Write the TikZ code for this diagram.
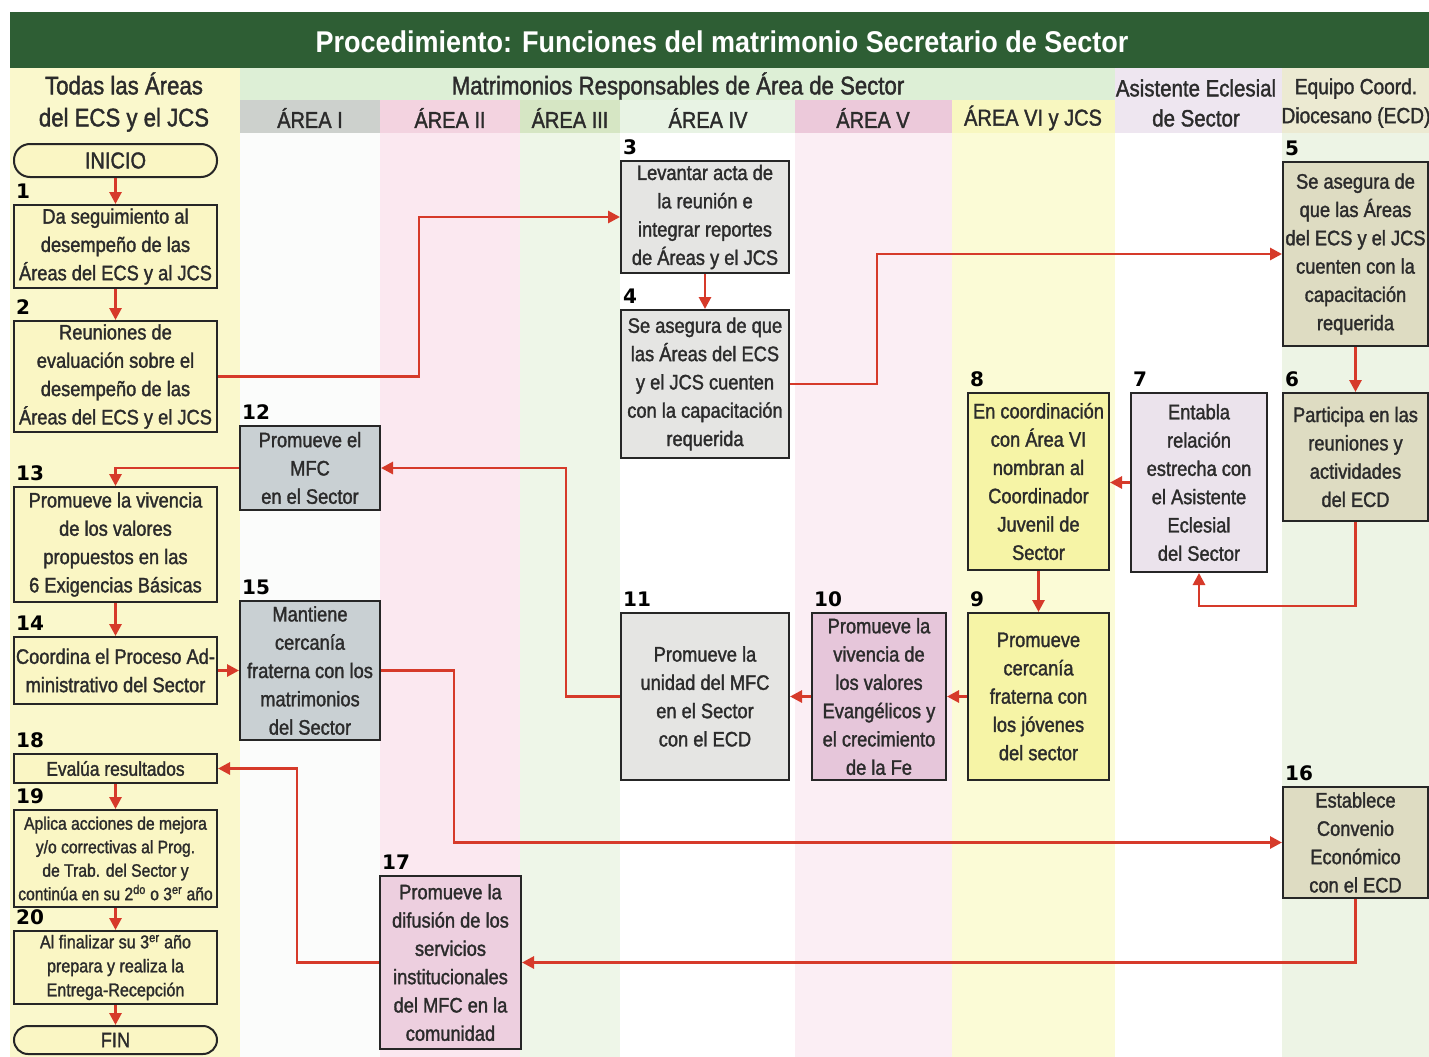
\documentclass[tikz,border=0pt]{standalone}
\usepackage{fontspec}
\setmainfont{Liberation Sans}[FakeStretch=0.87,FakeBold=1.5]
\newfontfamily\titlefont{Liberation Sans}[FakeStretch=0.9]
\newfontfamily\numfont{DejaVu Sans}
\usetikzlibrary{arrows.meta}
\definecolor{titlegreen}{HTML}{2E5E34}
\definecolor{leftcol}{HTML}{FAF8CC}
\definecolor{bandgreen}{HTML}{DDEFD6}
\definecolor{hA}{HTML}{CDD1CD}
\definecolor{bA}{HTML}{FBFCFB}
\definecolor{hB}{HTML}{F3D3E0}
\definecolor{bB}{HTML}{FBE8F0}
\definecolor{hC}{HTML}{D6E6C4}
\definecolor{bC}{HTML}{EEF6E8}
\definecolor{hD}{HTML}{E8F3E4}
\definecolor{hE}{HTML}{ECC9DA}
\definecolor{bE}{HTML}{FBEEF4}
\definecolor{hF}{HTML}{F8F7C0}
\definecolor{bF}{HTML}{FBFBD6}
\definecolor{hG}{HTML}{EEE6F0}
\definecolor{hH}{HTML}{ECEAD2}
\definecolor{bH}{HTML}{EDF4E5}
\definecolor{fleft}{HTML}{FAF6C4}
\definecolor{fgray}{HTML}{E5E5E3}
\definecolor{fkhaki}{HTML}{DEDCC2}
\definecolor{flav}{HTML}{EBE3EC}
\definecolor{fyel}{HTML}{F6F4A6}
\definecolor{fpurp}{HTML}{E6C6DA}
\definecolor{fblue}{HTML}{C9D0D3}
\definecolor{fpink}{HTML}{EDCFDF}
\definecolor{boxline}{HTML}{262626}
\definecolor{txt}{HTML}{2B2B2B}
\definecolor{redline}{HTML}{D63A2A}
\newcommand\stepnode[8]{%
  \node[stepbox, #2, minimum width={(#5-#3)*1pt}, minimum height={(#6-#4)*1pt}] (#1) at ({(#3+#5)/2},{(#4+#6)/2}) {#8};
  \node[numlbl] (#1num) at ([xshift=3pt,yshift=5pt]#1.north west) {#7};}
\begin{document}
\begin{tikzpicture}[x=1pt,y=-1pt,
  stepbox/.style={draw=boxline, line width=2pt, inner sep=1pt, align=center, text=txt, font=\fontsize{21}{28.3}\selectfont},
  numlbl/.style={anchor=south west, inner sep=0pt, font=\numfont\bfseries\fontsize{20}{20}\selectfont, text=black},
  terminal/.style={draw=boxline, line width=2pt, fill=fleft, text=txt, inner sep=0pt, minimum width=203pt},
  hdr/.style={text=txt, align=center, inner sep=0pt, font=\fontsize{25.5}{32}\selectfont},
  conn/.style={draw=redline, line width=2.8pt, -{Triangle[length=12pt,width=12pt]}}]
\useasboundingbox (0,0) rectangle (1429,1057);
\fill[white] (0,0) rectangle (1429,1057);
% lanes
\fill[leftcol] (10,68) rectangle (240,1057);
\fill[bandgreen] (240,68) rectangle (1115,100);
\fill[hA] (240,100) rectangle (380,133);
\fill[bA] (240,133) rectangle (380,1057);
\fill[hB] (380,100) rectangle (520,133);
\fill[bB] (380,133) rectangle (520,1057);
\fill[hC] (520,100) rectangle (620,133);
\fill[bC] (520,133) rectangle (620,1057);
\fill[hD] (620,100) rectangle (795,133);
\fill[hE] (795,100) rectangle (952,133);
\fill[bE] (795,133) rectangle (952,1057);
\fill[hF] (952,100) rectangle (1115,133);
\fill[bF] (952,133) rectangle (1115,1057);
\fill[hG] (1115,68) rectangle (1282,133);
\fill[hH] (1282,68) rectangle (1429,133);
\fill[bH] (1282,133) rectangle (1429,1057);
\fill[titlegreen] (10,12) rectangle (1429,68);
% headers
\node[text=white, inner sep=0pt, font=\titlefont\bfseries\fontsize{30}{31}\selectfont] (title) at (722,42) {Procedimiento: Funciones del matrimonio Secretario de Sector};
\node[hdr] (hleft) at (124,102) {Todas las Áreas\\del ECS y el JCS};
\node[hdr] (hmat) at (678,86) {Matrimonios Responsables de Área de Sector};
\node[hdr, font=\fontsize{23}{30}\selectfont] (hA1) at (310,118) {ÁREA I};
\node[hdr, font=\fontsize{23}{30}\selectfont] (hA2) at (450,118) {ÁREA II};
\node[hdr, font=\fontsize{23}{30}\selectfont] (hA3) at (570,118) {ÁREA III};
\node[hdr, font=\fontsize{23}{30}\selectfont] (hA4) at (708,118) {ÁREA IV};
\node[hdr, font=\fontsize{23}{30}\selectfont] (hA5) at (873,118) {ÁREA V};
\node[hdr, font=\fontsize{23}{30}\selectfont] (hA6) at (1033,118) {ÁREA VI y JCS};
\node[hdr, font=\fontsize{23.5}{30}\selectfont] (hasis) at (1196,103) {Asistente Eclesial\\de Sector};
\node[hdr, font=\fontsize{22}{29}\selectfont] (hecd) at (1356,103) {Equipo Coord.\\Diocesano (ECD)};
% terminals
\node[terminal, minimum height=33pt, rounded corners=16pt, font=\fontsize{23}{24}\selectfont] (inicio) at (115.5,160.5) {INICIO};
\node[terminal, minimum height=28pt, rounded corners=14pt, font=\fontsize{21}{22}\selectfont] (fin) at (115.5,1040) {FIN};
% steps
\stepnode{n1}{fill=fleft}{14}{205}{217}{288}{1}{Da seguimiento al\\desempeño de las\\Áreas del ECS y al JCS}
\stepnode{n2}{fill=fleft}{14}{321}{217}{432}{2}{Reuniones de\\evaluación sobre el\\desempeño de las\\Áreas del ECS y el JCS}
\stepnode{n3}{fill=fgray}{621}{161}{789}{273}{3}{Levantar acta de\\la reunión e\\integrar reportes\\de Áreas y el JCS}
\stepnode{n4}{fill=fgray}{621}{310}{789}{458}{4}{Se asegura de que\\las Áreas del ECS\\y el JCS cuenten\\con la capacitación\\requerida}
\stepnode{n5}{fill=fkhaki}{1283}{162}{1428}{346}{5}{Se asegura de\\que las Áreas\\del ECS y el JCS\\cuenten con la\\capacitación\\requerida}
\stepnode{n6}{fill=fkhaki}{1283}{393}{1428}{521}{6}{Participa en las\\reuniones y\\actividades\\del ECD}
\stepnode{n7}{fill=flav}{1131}{393}{1267}{572}{7}{Entabla\\relación\\estrecha con\\el Asistente\\Eclesial\\del Sector}
\stepnode{n8}{fill=fyel}{968}{393}{1109}{570}{8}{En coordinación\\con Área VI\\nombran al\\Coordinador\\Juvenil de\\Sector}
\stepnode{n9}{fill=fyel}{968}{613}{1109}{780}{9}{Promueve\\cercanía\\fraterna con\\los jóvenes\\del sector}
\stepnode{n10}{fill=fpurp}{812}{613}{946}{780}{10}{Promueve la\\vivencia de\\los valores\\Evangélicos y\\el crecimiento\\de la Fe}
\stepnode{n11}{fill=fgray}{621}{613}{789}{780}{11}{Promueve la\\unidad del MFC\\en el Sector\\con el ECD}
\stepnode{n12}{fill=fblue}{240}{426}{380}{510}{12}{Promueve el\\MFC\\en el Sector}
\stepnode{n13}{fill=fleft}{14}{487}{217}{602}{13}{Promueve la vivencia\\de los valores\\propuestos en las\\6 Exigencias Básicas}
\stepnode{n14}{fill=fleft}{14}{637}{217}{704}{14}{Coordina el Proceso Ad-\\ministrativo del Sector}
\stepnode{n15}{fill=fblue}{240}{601}{380}{740}{15}{Mantiene\\cercanía\\fraterna con los\\matrimonios\\del Sector}
\stepnode{n16}{fill=fkhaki}{1283}{787}{1428}{898}{16}{Establece\\Convenio\\Económico\\con el ECD}
\stepnode{n17}{fill=fpink}{380}{876}{521}{1049}{17}{Promueve la\\difusión de los\\servicios\\institucionales\\del MFC en la\\comunidad}
\stepnode{n18}{fill=fleft, font=\fontsize{20}{22}\selectfont}{14}{754}{217}{783}{18}{Evalúa resultados}
\stepnode{n19}{fill=fleft, font=\fontsize{18}{23.5}\selectfont}{14}{810}{217}{907}{19}{Aplica acciones de mejora\\y/o correctivas al Prog.\\de Trab. del Sector y\\continúa en su 2\textsuperscript{do} o 3\textsuperscript{er} año}
\stepnode{n20}{fill=fleft, font=\fontsize{18.5}{24}\selectfont}{14}{931}{217}{1004}{20}{Al finalizar su 3\textsuperscript{er} año\\prepara y realiza la\\Entrega-Recepción}
% connectors
\draw[conn] (inicio) -- (n1);
\draw[conn] (n1) -- (n2);
\draw[conn] (n2.east) -- ++(201,0) |- (n3.west);
\draw[conn] (n3) -- (n4);
\draw[conn] (n4.east) -- ++(87,0) |- (n5.west);
\draw[conn] (n5) -- (n6);
\draw[conn] (n6.south) -- ++(0,84) -| (n7.south);
\draw[conn] (n7.west) -- (n7.west -| n8.east);
\draw[conn] (n8) -- (n9);
\draw[conn] (n9) -- (n10);
\draw[conn] (n10) -- (n11);
\draw[conn] (n11.west) -- ++(-54,0) |- (n12.east);
\draw[conn] (n12.west) -| (n13.north);
\draw[conn] (n13) -- (n14);
\draw[conn] (n14) -- (n15);
\draw[conn] (n15.east) -- ++(73,0) |- (n16.west);
\draw[conn] (n16.south) |- (n17.east);
\draw[conn] (n17.west) -- ++(-82,0) |- (n18.east);
\draw[conn] (n18) -- (n19);
\draw[conn] (n19) -- (n20);
\draw[conn] (n20) -- (fin);
\end{tikzpicture}
\end{document}
